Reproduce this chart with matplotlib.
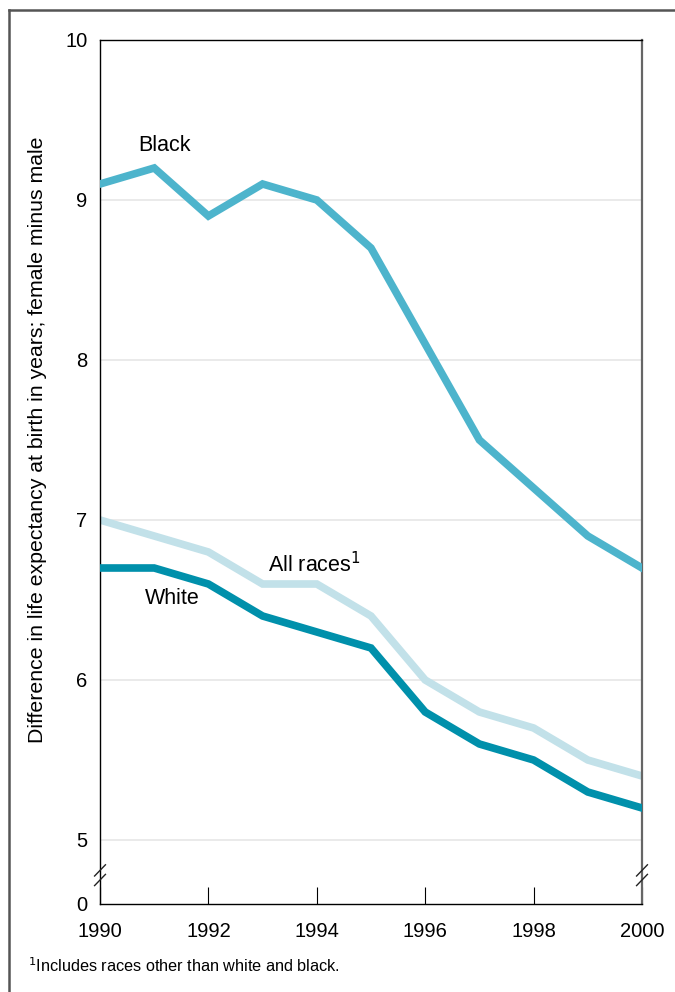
import matplotlib
matplotlib.use("Agg")
import matplotlib.pyplot as plt
from matplotlib.lines import Line2D

plt.rcParams['font.family'] = ['Liberation Sans', 'DejaVu Sans']

# ── data ──────────────────────────────────────────────────────────────────────
years = [1990, 1991, 1992, 1993, 1994, 1995, 1996, 1997, 1998, 1999, 2000]
black = [9.1, 9.2, 8.9, 9.1, 9.0, 8.7, 8.1, 7.5, 7.2, 6.9, 6.7]
all_races = [7.0, 6.9, 6.8, 6.6, 6.6, 6.4, 6.0, 5.8, 5.7, 5.5, 5.4]
white = [6.7, 6.7, 6.6, 6.4, 6.3, 6.2, 5.8, 5.6, 5.5, 5.3, 5.2]

y_ticks = [5, 6, 7, 8, 9, 10]
x_ticks = [1990, 1992, 1994, 1996, 1998, 2000]

# broken axis: 0 sits just below 5
Y_ZERO = 4.6

fig = plt.figure(figsize=(6.75, 9.92), dpi=100)
ax = fig.add_axes([100 / 675, 88 / 992, 542 / 675, 864 / 992])

for yv in [5, 6, 7, 8, 9]:
    ax.axhline(yv, color="#e6e6e6", lw=1.2, zorder=0)

ax.plot(years, all_races, color="#c2e1e9", lw=5.5, solid_joinstyle="miter", zorder=2)
ax.plot(years, black, color="#4db4cc", lw=5.5, solid_joinstyle="miter", zorder=3)
ax.plot(years, white, color="#0090ab", lw=5.5, solid_joinstyle="miter", zorder=4)

ax.set_xlim(1990, 2000)
ax.set_ylim(Y_ZERO, 10)
ax.set_xticks(x_ticks)
ax.set_xticklabels([str(x) for x in x_ticks], fontsize=14.5)
ax.set_yticks([Y_ZERO] + y_ticks)
ax.set_yticklabels(["0"] + [str(y) for y in y_ticks], fontsize=14.5)
ax.tick_params(axis="x", direction="in", length=12, width=0.8, pad=13)
ax.tick_params(axis="y", length=0, pad=9)
for s in ax.spines.values():
    s.set_linewidth(1.0)
ax.spines["right"].set_color("#666666")
ax.spines["right"].set_linewidth(1.6)

ax.set_ylabel("Difference in life expectancy at birth in years; female minus male",
              fontsize=15.3)
ax.yaxis.set_label_coords(-0.098, 0.537)

# axis break marks
for xv in [1990, 2000]:
    for dy in [-0.03, 0.03]:
        yb = 4.78 + dy
        ax.add_line(Line2D([xv - 0.1, xv + 0.1], [yb - 0.035, yb + 0.035],
                           color="#222222", lw=1.0, clip_on=False, zorder=5))

ax.text(1990.7, 9.34, "Black", fontsize=15.5, ha="left", va="center")
ax.text(1993.1, 6.72, "All races$^{1}$", fontsize=15.5, ha="left", va="center")
ax.text(1990.82, 6.51, "White", fontsize=15.5, ha="left", va="center")

fig.text(28 / 675, 1 - 966 / 992, "$^{1}$Includes races other than white and black.",
         fontsize=11.7, ha="left", va="center")

# outer frame (top and left only)
fig.add_artist(Line2D([9 / 675, 1], [1 - 9.5 / 992, 1 - 9.5 / 992],
                      transform=fig.transFigure, color="#555555", lw=1.8))
fig.add_artist(Line2D([9 / 675, 9 / 675], [0, 1 - 9.5 / 992],
                      transform=fig.transFigure, color="#555555", lw=1.8))

fig.savefig("out.png", dpi=100)
